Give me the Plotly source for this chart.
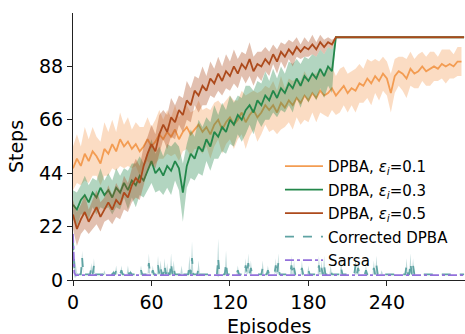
import plotly.graph_objects as go
import numpy as np

# ---------------- data ----------------
ep_orange = list(range(0, 300, 3))
orange_mean = [46, 50, 47, 52, 49, 53, 51, 48, 54, 52,
               56, 53, 58, 55, 57, 54, 56, 53, 55, 58,
               55, 57, 60, 58, 61, 59, 62, 58, 61, 63,
               60, 62, 64, 61, 63, 60, 64, 66, 62, 65,
               67, 64, 66, 69, 65, 68, 70, 67, 69, 72,
               70, 72, 69, 73, 71, 74, 72, 75, 73, 76,
               74, 77, 75, 78, 76, 77, 79, 76, 78, 80,
               77, 79, 78, 81, 80, 83, 81, 84, 82, 85,
               83, 77, 84, 86, 85, 83, 87, 85, 86, 88,
               86, 87, 88, 87, 89, 88, 89, 88, 90, 90]
orange_spread = [9, 10, 8, 11, 9, 10, 8, 9, 11, 9,
                 10, 8, 11, 9, 10, 8, 9, 10, 8, 9,
                 8, 9, 10, 8, 9, 8, 10, 9, 8, 9,
                 9, 8, 10, 9, 8, 10, 9, 8, 10, 9,
                 9, 10, 8, 9, 11, 9, 8, 10, 9, 8,
                 9, 10, 9, 11, 8, 9, 10, 8, 9, 10,
                 9, 8, 10, 9, 8, 10, 9, 8, 9, 8,
                 8, 7, 9, 8, 7, 8, 9, 7, 8, 7,
                 7, 8, 7, 6, 7, 8, 7, 6, 7, 6,
                 6, 7, 6, 5, 6, 7, 6, 5, 6, 6]

ep_short = list(range(0, 199, 3)) + [201, 299]
green_mean = [31, 29, 33, 35, 32, 36, 34, 38, 35, 37,
              34, 38, 36, 40, 37, 41, 39, 43, 41, 45,
              49, 44, 46, 43, 47, 45, 49, 46, 36, 47,
              52, 50, 55, 53, 58, 55, 61, 59, 63, 61,
              66, 64, 68, 66, 70, 72, 69, 74, 72, 76,
              74, 78, 75, 79, 77, 81, 79, 83, 80, 84,
              82, 85, 83, 87, 84, 88, 86, 100, 100]
green_spread = [6, 7, 6, 8, 7, 6, 7, 8, 6, 7,
                7, 8, 7, 6, 8, 7, 9, 8, 7, 8,
                9, 8, 9, 8, 9, 10, 8, 9, 12, 9,
                10, 9, 11, 10, 9, 10, 11, 9, 10, 9,
                10, 9, 8, 9, 10, 8, 9, 8, 9, 10,
                8, 9, 8, 9, 8, 9, 10, 8, 9, 8,
                9, 8, 9, 8, 9, 8, 9, 0, 0]
red_mean = [27, 21, 25, 28, 24, 27, 30, 26, 29, 32,
            29, 33, 31, 36, 34, 39, 42, 40, 47, 52,
            56, 53, 60, 64, 61, 67, 65, 70, 68, 74,
            72, 78, 76, 80, 78, 83, 81, 85, 82, 86,
            84, 88, 85, 89, 87, 91, 86, 89, 88, 91,
            89, 93, 90, 94, 92, 95, 93, 96, 94, 96,
            95, 97, 95, 98, 96, 98, 97, 100, 100]
red_spread = [6, 7, 6, 7, 5, 6, 7, 6, 5, 7,
              6, 7, 6, 7, 6, 7, 8, 7, 8, 7,
              8, 7, 8, 6, 7, 8, 7, 6, 7, 8,
              7, 6, 7, 8, 6, 7, 6, 7, 6, 7,
              6, 7, 6, 5, 6, 7, 6, 5, 6, 5,
              5, 4, 5, 4, 5, 4, 5, 4, 3, 4,
              3, 4, 3, 3, 3, 2, 2, 0, 0]

# Corrected DPBA: near-flat line with spikes
corr_start_eps = [0, 1, 2, 3]
corr_start_vals = [16, 5, 4, 2.3]
corr_start_tops = [20, 9, 7, 3]
corr_base = 2.3
spike_eps = [7, 14, 16, 24, 31, 33, 37, 42, 44, 52, 58, 61, 65, 67, 70, 72, 75, 77,
             83, 89, 91, 96, 111, 117, 126, 132, 134, 136, 145, 149, 155, 157, 167,
             169, 175, 180, 188, 190, 192, 197, 205, 216, 218, 224, 230, 232, 236,
             255, 258, 260]
spike_vals = [9, 5, 6, 3, 3, 4, 4, 4, 3, 4, 7, 4, 6, 5, 6, 5, 7, 5,
              4, 6, 9, 5, 9, 7, 4, 6, 7, 5, 5, 4, 6, 7, 6,
              5, 5, 4, 6, 5, 6, 4, 5, 6, 5, 4, 5, 6, 3,
              6, 7, 6]
spike_tops = [12, 7, 9, 4, 4, 6, 6, 6, 4, 6, 11, 6, 10, 8, 9, 7, 11, 8,
              6, 10, 16, 8, 17, 12, 6, 9, 11, 8, 8, 6, 9, 11, 10,
              8, 8, 6, 10, 8, 10, 6, 8, 10, 8, 6, 8, 10, 4,
              9, 11, 9]

sarsa_eps = [0, 1, 2, 299]
sarsa_vals = [19, 3, 2, 2]

# ---------------- figure ----------------
def rgba(hexc, a):
    h = hexc.lstrip('#')
    return 'rgba(%d,%d,%d,%.2f)' % (int(h[0:2], 16), int(h[2:4], 16), int(h[4:6], 16), a)

fig = go.Figure()

def add_series(x, mean, spread, color, name, alpha, group, dash='solid'):
    m = np.array(mean, dtype=float)
    s = np.array(spread, dtype=float)
    up = m + s
    lo = np.clip(m - s, 0, None)
    fig.add_trace(go.Scatter(x=list(x) + list(x)[::-1], y=list(up) + list(lo)[::-1],
                             fill='toself', fillcolor=rgba(color, alpha),
                             line=dict(width=0), hoverinfo='skip', showlegend=False,
                             legendgroup=group))
    fig.add_trace(go.Scatter(x=x, y=m, mode='lines', name=name, legendgroup=group,
                             line=dict(color=color, width=1.8, dash=dash)))

C_OR = '#f39c52'
C_GR = '#23874a'
C_RD = '#ad4a1c'
C_TE = '#5fa3a3'
C_PU = '#9370db'

add_series(ep_orange, orange_mean, orange_spread, C_OR, 'DPBA, <i>ε<sub>i</sub></i>=0.1', 0.35, 'g1')
add_series(ep_short, green_mean, green_spread, C_GR, 'DPBA, <i>ε<sub>i</sub></i>=0.3', 0.35, 'g2')
add_series(ep_short, red_mean, red_spread, C_RD, 'DPBA, <i>ε<sub>i</sub></i>=0.5', 0.35, 'g3')

# corrected DPBA arrays built from the spike lists
cx, cy, ct = list(corr_start_eps), list(corr_start_vals), list(corr_start_tops)
for e, v, t in zip(spike_eps, spike_vals, spike_tops):
    cx += [e - 1, e, e + 1]
    cy += [corr_base, v, corr_base]
    ct += [corr_base, t, corr_base]
cx.append(299); cy.append(corr_base); ct.append(corr_base)
cy_arr = np.array(cy); ct_arr = np.array(ct)
spread_c = ct_arr - cy_arr
add_series(cx, cy_arr, spread_c, C_TE, 'Corrected DPBA', 0.4, 'g4', dash='dash')

fig.add_trace(go.Scatter(x=sarsa_eps, y=sarsa_vals, mode='lines', name='Sarsa', legendgroup='g5',
                         line=dict(color=C_PU, width=1.8, dash='dashdot')))

axis_common = dict(showline=True, linecolor='#222', linewidth=1, ticks='outside',
                   ticklen=5, tickwidth=1, tickcolor='#222', showgrid=False, zeroline=False,
                   automargin=False, tickfont=dict(size=19, color='black'))
fig.update_layout(
    width=465, height=334,
    margin=dict(l=73, r=0, t=13, b=54),
    plot_bgcolor='white', paper_bgcolor='white',
    font=dict(family='DejaVu Sans', color='black'),
    xaxis=dict(range=[0, 299.7], tickvals=[0, 60, 120, 180, 240], **axis_common),
    yaxis=dict(range=[0, 110], tickvals=[0, 22, 44, 66, 88],
               title=dict(text='Steps', font=dict(size=19), standoff=10), **axis_common),
    legend=dict(x=0.528, y=0.487, xanchor='left', yanchor='top', bgcolor='rgba(0,0,0,0)',
                font=dict(size=15, color='black'), tracegroupgap=1, itemwidth=38),
    annotations=[dict(text='Episodes', xref='paper', yref='paper', x=0.5, y=-0.125,
                      xanchor='center', yanchor='top', showarrow=False,
                      font=dict(size=19, color='black'))],
)

fig.write_html('out.html', config={'displayModeBar': False},
               post_script="document.body.style.margin='0';document.body.style.padding='0';")
